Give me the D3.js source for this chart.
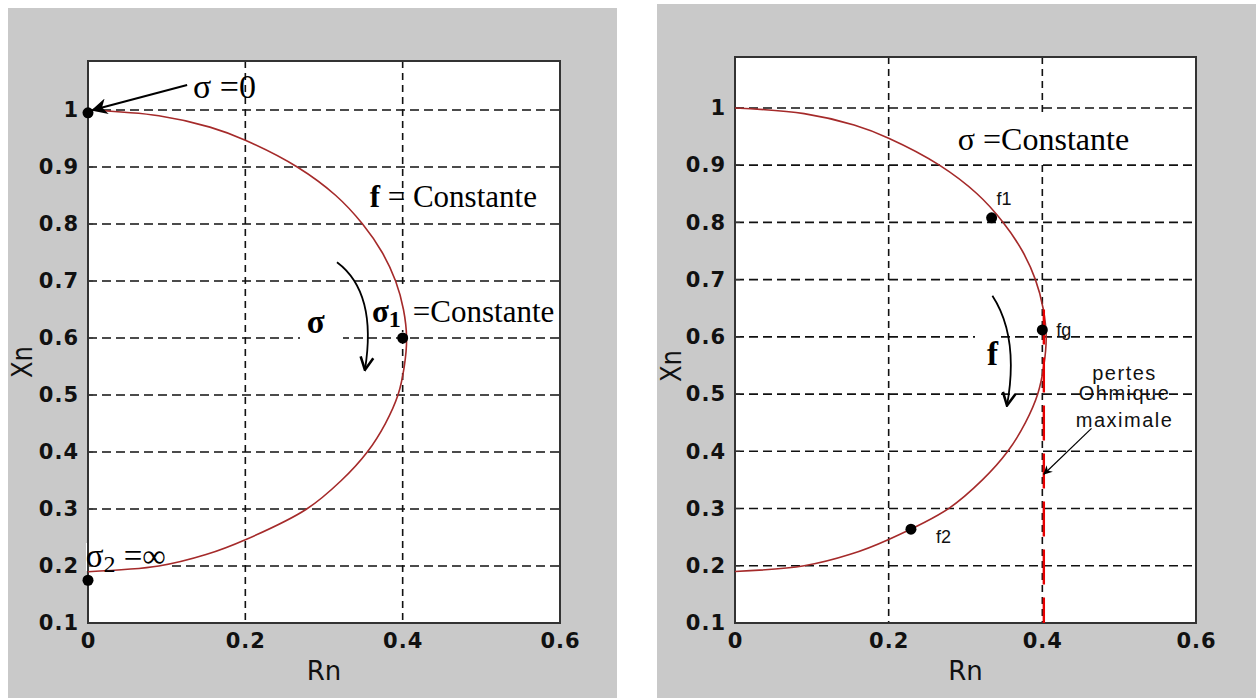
<!DOCTYPE html>
<html>
<head>
<meta charset="utf-8">
<script src="https://cdn.jsdelivr.net/npm/d3@7"></script>
<style>
  html, body { margin: 0; padding: 0; background: #fff; }
  svg { display: block; }
</style>
</head>
<body>
<svg id="chart" width="1256" height="698"></svg>
<script>
// values
const xTicks = [0, 0.2, 0.4, 0.6];
const yTicks = [0.1, 0.2, 0.3, 0.4, 0.5, 0.6, 0.7, 0.8, 0.9, 1];

// the circle locus (same on both panels)
const curveR = [0, 0.09, 0.155, 0.2, 0.266, 0.315, 0.349, 0.374, 0.391, 0.401, 0.405, 0.402, 0.394, 0.378, 0.355, 0.322, 0.278, 0.2, 0.15, 0.09, 0];
const curveX = [1.0, 0.99, 0.97, 0.947, 0.9, 0.85, 0.8, 0.75, 0.7, 0.65, 0.6, 0.55, 0.5, 0.45, 0.4, 0.35, 0.3, 0.246, 0.22, 0.2, 0.19];

// left panel points : sigma = 0, sigma1, sigma2
const leftDotR = [0, 0.4, 0];
const leftDotX = [0.995, 0.6, 0.175];

// right panel points : f1, fg, f2
const rightDotR = [0.334, 0.4, 0.229];
const rightDotX = [0.808, 0.612, 0.264];
const rightDotLabels = ['f1', 'fg', 'f2'];

// ohmic losses limit
const lossR = 0.4;
const lossX = [0.648, 0.1];

const svg = d3.select('#chart');

const defs = svg.append('defs');
defs.append('marker')
  .attr('id', 'head')
  .attr('viewBox', '0 0 10 10')
  .attr('refX', 9).attr('refY', 5)
  .attr('markerWidth', 10).attr('markerHeight', 9)
  .attr('markerUnits', 'userSpaceOnUse')
  .attr('orient', 'auto')
  .append('path').attr('d', 'M0,0 L10,5 L0,10 L3,5 Z').attr('fill', '#000');
defs.append('marker')
  .attr('id', 'headBig')
  .attr('viewBox', '0 0 10 10')
  .attr('refX', 9).attr('refY', 5)
  .attr('markerWidth', 22).attr('markerHeight', 16)
  .attr('markerUnits', 'userSpaceOnUse')
  .attr('orient', 'auto')
  .append('path').attr('d', 'M0,0 L10,5 L0,10 L3,5 Z').attr('fill', '#000');
defs.append('marker')
  .attr('id', 'vee')
  .attr('viewBox', '0 0 10 10')
  .attr('refX', 9).attr('refY', 5)
  .attr('markerWidth', 16).attr('markerHeight', 16)
  .attr('markerUnits', 'userSpaceOnUse')
  .attr('orient', 'auto')
  .append('path').attr('d', 'M1,1 L9,5 L1,9').attr('fill', 'none').attr('stroke', '#000').attr('stroke-width', 1.6);

function drawPanel(p) {
  const g = svg.append('g');
  g.append('rect')
    .attr('x', p.bg[0]).attr('y', p.bg[1])
    .attr('width', p.bg[2]).attr('height', p.bg[3])
    .attr('fill', '#c9c9c9');

  const x = d3.scaleLinear().domain([0, 0.6]).range([p.left, p.right]);
  const y = d3.scaleLinear().domain([0.1, p.ymax]).range([p.bottom, p.top]);

  g.append('rect')
    .attr('x', p.left).attr('y', p.top)
    .attr('width', p.right - p.left).attr('height', p.bottom - p.top)
    .attr('fill', '#fff');

  // grid
  g.append('g').selectAll('line')
    .data(yTicks.filter(d => d > 0.1))
    .join('line')
    .attr('x1', p.left).attr('x2', p.right)
    .attr('y1', d => y(d)).attr('y2', d => y(d))
    .attr('stroke', '#111').attr('stroke-width', 1.6)
    .attr('stroke-dasharray', '9,5');
  g.append('g').selectAll('line')
    .data(xTicks.filter(d => d > 0 && d < 0.6))
    .join('line')
    .attr('x1', d => x(d)).attr('x2', d => x(d))
    .attr('y1', p.top).attr('y2', p.bottom)
    .attr('stroke', '#111').attr('stroke-width', 1.6)
    .attr('stroke-dasharray', '7,5');

  // white boxes behind some of the notes
  g.append('g').selectAll('rect')
    .data(p.boxes)
    .join('rect')
    .attr('x', d => d[0]).attr('y', d => d[1])
    .attr('width', d => d[2]).attr('height', d => d[3])
    .attr('fill', '#fff');

  // inward ticks
  g.append('g').selectAll('line')
    .data(yTicks)
    .join('line')
    .attr('x1', p.left).attr('x2', p.left + 5)
    .attr('y1', d => y(d)).attr('y2', d => y(d))
    .attr('stroke', '#333').attr('stroke-width', 1.2);

  // axes (labels only)
  const yAxis = g.append('g')
    .attr('transform', 'translate(' + p.left + ',0)')
    .call(d3.axisLeft(y).tickValues(yTicks).tickSize(0).tickPadding(9).tickFormat(d => String(d)));
  const xAxis = g.append('g')
    .attr('transform', 'translate(0,' + p.bottom + ')')
    .call(d3.axisBottom(x).tickValues(xTicks).tickSize(0).tickPadding(10).tickFormat(d => String(d)));
  [yAxis, xAxis].forEach(a => {
    a.select('.domain').remove();
    a.selectAll('text')
      .attr('fill', '#111')
      .style('font-family', 'DejaVu Sans, sans-serif')
      .style('font-size', '21px')
      .style('font-weight', 'bold')
      .style('letter-spacing', '1px');
  });

  // frame
  g.append('rect')
    .attr('x', p.left).attr('y', p.top)
    .attr('width', p.right - p.left).attr('height', p.bottom - p.top)
    .attr('fill', 'none').attr('stroke', '#333').attr('stroke-width', 2);

  g.append('text')
    .attr('x', (p.left + p.right) / 2).attr('y', p.bottom + 57)
    .attr('text-anchor', 'middle')
    .style('font-family', 'DejaVu Sans, sans-serif')
    .style('font-size', '26px')
    .attr('fill', '#111')
    .text('Rn');
  g.append('text')
    .attr('transform', 'translate(' + p.xnPos[0] + ',' + p.xnPos[1] + ') rotate(-90)')
    .attr('text-anchor', 'middle')
    .attr('dy', '0.35em')
    .attr('textLength', 32).attr('lengthAdjust', 'spacingAndGlyphs')
    .style('font-family', 'DejaVu Sans, sans-serif')
    .style('font-size', '28px')
    .attr('fill', '#111')
    .text('Xn');

  return { g, x, y };
}

const lineGen = (x, y) => d3.line()
  .x(i => x(curveR[i]))
  .y(i => y(curveX[i]))
  .curve(d3.curveCatmullRom);

const serif = 'Liberation Serif, Times New Roman, serif';

// ---------- left panel ----------
{
  const { g, x, y } = drawPanel({
    bg: [8, 8, 609, 690],
    left: 88, right: 560, top: 61, bottom: 623, ymax: 1.086,
    xnPos: [22, 362],
    boxes: [[300, 296, 43, 54], [368, 286, 192, 44], [86, 543, 86, 28]]
  });

  g.append('path')
    .datum(d3.range(curveR.length))
    .attr('d', lineGen(x, y))
    .attr('fill', 'none').attr('stroke', '#a52a2a').attr('stroke-width', 1.6);

  g.append('g').selectAll('circle')
    .data(leftDotR.map((r, i) => [r, leftDotX[i]]))
    .join('circle')
    .attr('cx', d => x(d[0])).attr('cy', d => y(d[1]))
    .attr('r', 5.5).attr('fill', '#000');

  // sigma = 0 with arrow
  g.append('line')
    .attr('x1', x(0.126)).attr('y1', y(1.044))
    .attr('x2', x(0.006)).attr('y2', y(1.0))
    .attr('stroke', '#000').attr('stroke-width', 2)
    .attr('marker-end', 'url(#headBig)');
  g.append('text')
    .attr('x', x(0.1335)).attr('y', y(1.021))
    .style('font-family', serif).style('font-size', '34px')
    .text('σ =0');

  const f = g.append('text')
    .attr('x', x(0.358)).attr('y', y(0.83))
    .style('font-family', serif).style('font-size', '31px');
  f.append('tspan').attr('font-weight', 'bold').text('f');
  f.append('tspan').text(' = Constante');

  const s1 = g.append('text')
    .attr('x', x(0.361)).attr('y', y(0.628))
    .style('font-family', serif).style('font-size', '31px');
  s1.append('tspan').attr('font-weight', 'bold').text('σ');
  s1.append('tspan').attr('font-weight', 'bold').attr('dy', 5).style('font-size', '24px').text('1');
  s1.append('tspan').attr('dy', -5).attr('dx', 12).text('=Constante');

  g.append('text')
    .attr('x', x(0.278)).attr('y', y(0.609))
    .style('font-family', serif).style('font-size', '33px')
    .attr('font-weight', 'bold')
    .text('σ');

  g.append('path')
    .attr('d', 'M' + x(0.3165) + ',' + y(0.733) + ' Q' + x(0.368) + ',' + y(0.68) + ' ' + x(0.352) + ',' + y(0.544))
    .attr('fill', 'none').attr('stroke', '#000').attr('stroke-width', 1.8)
    .attr('marker-end', 'url(#vee)');

  const s2 = g.append('text')
    .attr('x', x(-0.003)).attr('y', y(0.198))
    .style('font-family', serif).style('font-size', '33px');
  s2.append('tspan').text('σ');
  s2.append('tspan').attr('dy', 5).style('font-size', '24px').text('2');
  s2.append('tspan').attr('dy', -5).text(' =∞');
}

// ---------- right panel ----------
{
  const { g, x, y } = drawPanel({
    bg: [657, 4, 599, 694],
    left: 735, right: 1196, top: 57, bottom: 623, ymax: 1.089,
    xnPos: [671, 366],
    boxes: [[952, 116, 190, 46], [975, 322, 24, 50]]
  });

  g.append('path')
    .datum(d3.range(curveR.length))
    .attr('d', lineGen(x, y))
    .attr('fill', 'none').attr('stroke', '#a52a2a').attr('stroke-width', 1.6);

  g.append('line')
    .attr('x1', x(lossR) + 1.5).attr('x2', x(lossR) + 1.5)
    .attr('y1', y(lossX[0])).attr('y2', y(lossX[1]))
    .attr('stroke', '#e60000').attr('stroke-width', 2.4)
    .attr('stroke-dasharray', '35,13');

  const dots = rightDotR.map((r, i) => [r, rightDotX[i], rightDotLabels[i]]);
  g.append('g').selectAll('circle')
    .data(dots)
    .join('circle')
    .attr('cx', d => x(d[0])).attr('cy', d => y(d[1]))
    .attr('r', 5.5).attr('fill', '#000');

  const labelOffset = { f1: [5, -13], fg: [14, 6], f2: [25, 14] };
  g.append('g').selectAll('text')
    .data(dots)
    .join('text')
    .attr('x', d => x(d[0]) + labelOffset[d[2]][0])
    .attr('y', d => y(d[1]) + labelOffset[d[2]][1])
    .style('font-family', 'Liberation Sans, Arial, sans-serif')
    .style('font-size', '18px')
    .attr('fill', '#111')
    .text(d => d[2]);

  g.append('text')
    .attr('x', x(0.290)).attr('y', y(0.9265))
    .style('font-family', serif).style('font-size', '32px')
    .text('σ =Constante');

  g.append('text')
    .attr('x', x(0.328)).attr('y', y(0.551))
    .style('font-family', serif).style('font-size', '33px')
    .attr('font-weight', 'bold')
    .text('f');

  g.append('path')
    .attr('d', 'M' + x(0.335) + ',' + y(0.672) + ' Q' + x(0.37) + ',' + y(0.6) + ' ' + x(0.354) + ',' + y(0.48))
    .attr('fill', 'none').attr('stroke', '#000').attr('stroke-width', 1.8)
    .attr('marker-end', 'url(#vee)');

  const notes = ['pertes', 'Ohmique', 'maximale'];
  const noteBase = [0.5246, 0.4897, 0.4425];
  g.append('g').selectAll('text')
    .data(notes)
    .join('text')
    .attr('x', x(0.507))
    .attr('y', (d, i) => y(noteBase[i]))
    .attr('text-anchor', 'middle')
    .style('font-family', 'Liberation Sans, Arial, sans-serif')
    .style('font-size', '20px')
    .style('letter-spacing', '1.5px')
    .attr('fill', '#111')
    .text(d => d);

  g.append('line')
    .attr('x1', x(0.464)).attr('y1', y(0.44))
    .attr('x2', x(0.402)).attr('y2', y(0.36))
    .attr('stroke', '#000').attr('stroke-width', 1.2)
    .attr('marker-end', 'url(#head)');
}
</script>
</body>
</html>
